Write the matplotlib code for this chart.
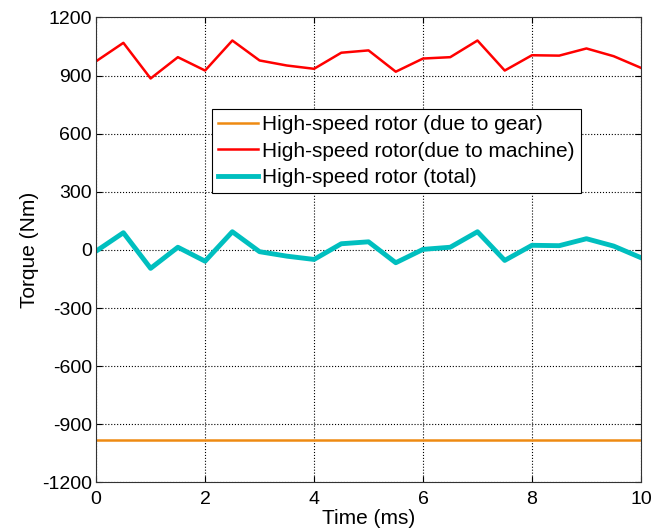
import numpy as np
import matplotlib.pyplot as plt

plt.rcParams['font.family'] = ['Liberation Sans', 'DejaVu Sans']
plt.rcParams['axes.unicode_minus'] = False

# --- data ---
time_ms = [0, 0.5, 1, 1.5, 2, 2.5, 3, 3.5, 4, 4.5, 5, 5.5, 6, 6.5, 7, 7.5, 8, 8.5, 9, 9.5, 10]
torque_machine = [974, 1069, 885, 995, 926, 1081, 978, 952, 935, 1018, 1030,
                  920, 988, 995, 1081, 926, 1005, 1003, 1040, 1000, 940]
torque_total = [-6, 89, -95, 14, -58, 94, -9, -32, -49, 32, 42,
                -66, 3, 14, 94, -54, 24, 22, 58, 20, -40]
torque_gear = [-981] * len(time_ms)

labels = ['High-speed rotor (due to gear)',
          'High-speed rotor(due to machine)',
          'High-speed rotor (total)']

fig = plt.figure(figsize=(6.54, 5.29), dpi=100)
ax = fig.add_axes([0.147, 0.088, 0.833, 0.879])

ax.plot(time_ms, torque_gear, color='#ee8a12', lw=1.8, label=labels[0])
ax.plot(time_ms, torque_machine, color='#ff0000', lw=1.8, label=labels[1])
ax.plot(time_ms, torque_total, color='#00bfbf', lw=3.5, label=labels[2])

ax.set_xlim(0, 10)
ax.set_ylim(-1200, 1200)
ax.set_xticks(np.arange(0, 11, 2))
ax.set_yticks(np.arange(-1200, 1201, 300))
ax.grid(True, color='black', linestyle=':', linewidth=0.8)
ax.tick_params(direction='in', top=True, right=True, labelsize=14, length=4, pad=3)
ax.tick_params(axis='x', pad=6)
for s in ax.spines.values():
    s.set_color('#333333')

ax.set_xlabel('Time (ms)', fontsize=15, labelpad=1)
ax.set_ylabel('Torque (Nm)', fontsize=15, labelpad=2)

leg = ax.legend(loc='upper left', bbox_to_anchor=(0.213, 0.803), fontsize=15,
                frameon=True, fancybox=False, framealpha=1, edgecolor='black',
                borderpad=0.3, labelspacing=0.35, handlelength=1.9,
                handletextpad=0.2, borderaxespad=0)
leg.get_frame().set_linewidth(0.8)

fig.savefig('out.png', dpi=100)
